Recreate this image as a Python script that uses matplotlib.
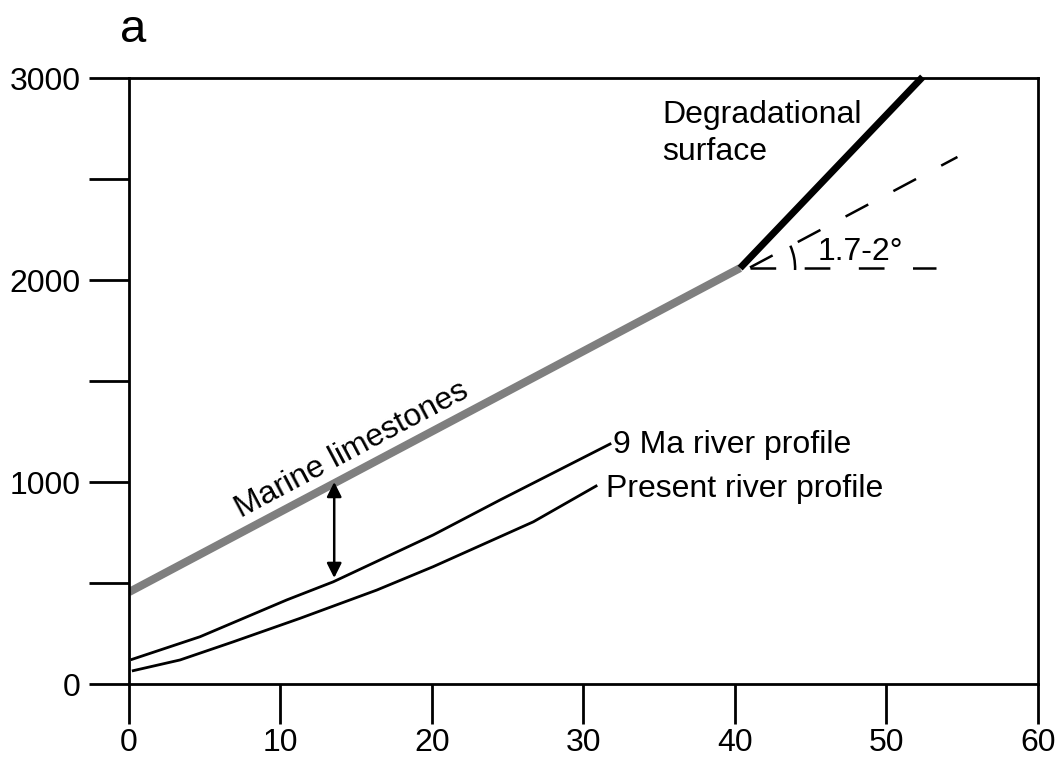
import matplotlib
matplotlib.use("Agg")
import matplotlib.pyplot as plt
from matplotlib.patches import Arc
from matplotlib.transforms import ScaledTranslation
import numpy as np

plt.rcParams['font.family'] = ['Liberation Sans', 'DejaVu Sans']
plt.rcParams['lines.scale_dashes'] = False

# Data
marine_x = [0.0, 40.35]
marine_y = [455, 2059]
degr_x = [40.35, 52.4]
degr_y = [2059, 3005]
horiz_x = [41.0, 53.3]
horiz_y = [2059, 2059]
slope_x = [41.0, 54.7]
slope_y = [2062, 2609]
ma9_x = [0.2, 4.69, 10.41, 13.49, 20.09, 24.5, 31.76]
ma9_y = [122, 234, 416, 506, 738, 911, 1188]
pres_x = [0.28, 3.37, 6.89, 11.29, 16.36, 20.09, 26.7, 30.84]
pres_y = [66, 119, 209, 325, 465, 581, 803, 980]
arrow_x = 13.55
arrow_top = 1000
arrow_bottom = 525
xticks = [0, 10, 20, 30, 40, 50, 60]
yticks = [0, 500, 1000, 1500, 2000, 2500, 3000]
ylabels = ['0', '', '1000', '', '2000', '', '3000']

fig = plt.figure(figsize=(10.6, 7.66), dpi=100)
ax = fig.add_axes([129/1060, 82/766, 908.7/1060, 606/766])

ax.plot(marine_x, marine_y, color='#7f7f7f', lw=5.8, solid_capstyle='butt')
ax.plot(degr_x, degr_y, color='black', lw=5.0, solid_capstyle='butt', clip_on=False)
ax.plot(horiz_x, horiz_y, color='black', lw=1.8, ls=(0, (18.5, 20.5)))
ax.plot(slope_x, slope_y, color='black', lw=1.8, ls=(0, (18.5, 20.5)))
ax.plot(ma9_x, ma9_y, color='black', lw=2.0)
ax.plot(pres_x, pres_y, color='black', lw=2.0)

ax.annotate('', xy=(arrow_x, arrow_top), xytext=(arrow_x, arrow_bottom),
            arrowprops=dict(arrowstyle='<|-|>', lw=1.8, color='black',
                            mutation_scale=22, shrinkA=0, shrinkB=0))

# angle arc (radius in pixels)
trans = fig.dpi_scale_trans + ScaledTranslation(marine_x[1], marine_y[1], ax.transData)
arc = Arc((0, 0), 1.1, 1.1, theta1=-2, theta2=24, transform=trans, color='black', lw=1.8)
ax.add_patch(arc)

fs = 23
ax.text(14.72, 1158, 'Marine limestones', rotation=28, ha='center', va='center', fontsize=fs)
ax.text(35.2, 2777, 'Degradational', ha='left', va='baseline', fontsize=fs)
ax.text(35.2, 2594, 'surface', ha='left', va='baseline', fontsize=fs)
ax.text(45.5, 2099, '1.7-2°', ha='left', va='baseline', fontsize=fs)
ax.text(31.96, 1144, '9 Ma river profile', ha='left', va='baseline', fontsize=fs)
ax.text(31.5, 926, 'Present river profile', ha='left', va='baseline', fontsize=fs)

fig.text(133/1060, 1 - 42/766, 'a', ha='center', va='baseline', fontsize=34)

ax.set_xlim(0, 60)
ax.set_ylim(0, 3000)
ax.set_xticks(xticks)
ax.set_yticks(yticks)
ax.set_yticklabels(ylabels)
ax.tick_params(axis='both', direction='out', length=29, width=2.0, labelsize=23)
ax.tick_params(axis='x', pad=3)
ax.tick_params(axis='y', pad=6)
for s in ax.spines.values():
    s.set_linewidth(2.0)

fig.savefig('out.png', dpi=100)
